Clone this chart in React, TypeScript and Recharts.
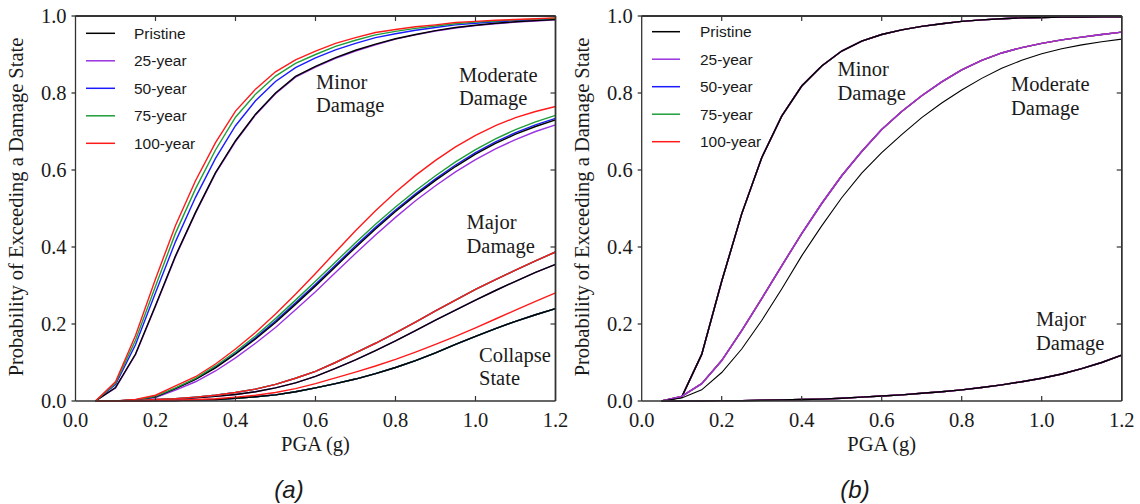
import React from 'react';
import { LineChart, Line, XAxis, YAxis, ReferenceLine } from 'recharts';

// ---------- data ----------
const pga = [0.05, 0.1, 0.15, 0.2, 0.25, 0.3, 0.35, 0.4, 0.45, 0.5, 0.55, 0.6, 0.65, 0.7, 0.75, 0.8, 0.85, 0.9, 0.95, 1.0, 1.05, 1.1, 1.15, 1.2];
const xTicks = [0, 0.2, 0.4, 0.6, 0.8, 1.0, 1.2];
const yTicks = [0, 0.2, 0.4, 0.6, 0.8, 1.0];
const legendLabels = ['Pristine', '25-year', '50-year', '75-year', '100-year'];
const legendColors = ['#000000', '#9a32e0', '#1a1aff', '#1f9e3a', '#ff1a1a'];

// Panel (a)
const aMinorPristine = [0, 0.035, 0.122, 0.248, 0.377, 0.490, 0.593, 0.676, 0.745, 0.800, 0.843, 0.869, 0.892, 0.911, 0.927, 0.941, 0.952, 0.962, 0.970, 0.976, 0.981, 0.985, 0.988, 0.991];
const aMinor25 = [0, 0.034, 0.120, 0.246, 0.375, 0.488, 0.591, 0.674, 0.743, 0.798, 0.841, 0.867, 0.890, 0.909, 0.925, 0.940, 0.951, 0.961, 0.969, 0.975, 0.980, 0.984, 0.987, 0.990];
const aMinor50 = [0, 0.043, 0.146, 0.281, 0.414, 0.529, 0.630, 0.715, 0.780, 0.830, 0.866, 0.891, 0.912, 0.929, 0.944, 0.954, 0.963, 0.970, 0.977, 0.981, 0.985, 0.988, 0.990, 0.993];
const aMinor75 = [0, 0.046, 0.158, 0.298, 0.436, 0.551, 0.652, 0.737, 0.797, 0.844, 0.877, 0.900, 0.921, 0.937, 0.951, 0.960, 0.968, 0.974, 0.980, 0.984, 0.987, 0.990, 0.992, 0.994];
const aMinor100 = [0, 0.050, 0.170, 0.317, 0.456, 0.572, 0.671, 0.753, 0.810, 0.855, 0.886, 0.909, 0.929, 0.944, 0.957, 0.965, 0.972, 0.977, 0.983, 0.986, 0.989, 0.991, 0.993, 0.995];

const aModPristine = [0, 0, 0.003, 0.011, 0.032, 0.056, 0.086, 0.122, 0.161, 0.204, 0.251, 0.299, 0.349, 0.399, 0.447, 0.492, 0.534, 0.573, 0.609, 0.641, 0.669, 0.693, 0.713, 0.730];
const aMod25 = [0, 0, 0.002, 0.009, 0.028, 0.050, 0.078, 0.112, 0.150, 0.191, 0.237, 0.284, 0.334, 0.383, 0.431, 0.477, 0.520, 0.559, 0.595, 0.627, 0.655, 0.679, 0.700, 0.717];
const aMod50 = [0, 0, 0.003, 0.011, 0.033, 0.057, 0.088, 0.124, 0.164, 0.208, 0.255, 0.303, 0.353, 0.403, 0.451, 0.496, 0.538, 0.577, 0.613, 0.645, 0.673, 0.697, 0.717, 0.734];
const aMod75 = [0, 0, 0.003, 0.012, 0.034, 0.059, 0.091, 0.128, 0.169, 0.214, 0.262, 0.311, 0.361, 0.411, 0.459, 0.504, 0.546, 0.585, 0.621, 0.653, 0.681, 0.705, 0.725, 0.742];
const aMod100 = [0, 0, 0.004, 0.015, 0.039, 0.063, 0.096, 0.135, 0.178, 0.226, 0.277, 0.331, 0.387, 0.442, 0.494, 0.542, 0.586, 0.625, 0.660, 0.690, 0.715, 0.736, 0.752, 0.765];

const aMajPristine = [0, 0, 0.001, 0.003, 0.005, 0.008, 0.012, 0.017, 0.024, 0.034, 0.047, 0.064, 0.085, 0.107, 0.131, 0.156, 0.183, 0.210, 0.236, 0.262, 0.287, 0.311, 0.334, 0.355];
const aMaj25 = [0, 0, 0.001, 0.003, 0.005, 0.008, 0.012, 0.017, 0.024, 0.034, 0.047, 0.064, 0.085, 0.107, 0.131, 0.156, 0.183, 0.210, 0.236, 0.262, 0.287, 0.311, 0.334, 0.355];
const aMaj50 = [0, 0, 0.001, 0.004, 0.006, 0.010, 0.015, 0.022, 0.031, 0.043, 0.059, 0.077, 0.100, 0.125, 0.150, 0.177, 0.205, 0.234, 0.262, 0.290, 0.315, 0.340, 0.364, 0.387];
const aMaj75 = [0, 0, 0.001, 0.004, 0.006, 0.010, 0.015, 0.022, 0.031, 0.043, 0.059, 0.077, 0.100, 0.125, 0.150, 0.177, 0.205, 0.234, 0.262, 0.290, 0.315, 0.340, 0.364, 0.387];
const aMaj100 = [0, 0, 0.001, 0.004, 0.006, 0.010, 0.015, 0.022, 0.031, 0.043, 0.059, 0.077, 0.100, 0.125, 0.150, 0.177, 0.205, 0.234, 0.262, 0.290, 0.315, 0.340, 0.364, 0.387];

const aColPristine = [0, 0, 0, 0.001, 0.001, 0.003, 0.004, 0.007, 0.011, 0.016, 0.024, 0.034, 0.045, 0.057, 0.071, 0.087, 0.105, 0.125, 0.147, 0.168, 0.188, 0.207, 0.224, 0.240];
const aCol25 = [0, 0, 0, 0.001, 0.001, 0.003, 0.004, 0.007, 0.011, 0.016, 0.024, 0.034, 0.045, 0.057, 0.071, 0.087, 0.105, 0.125, 0.147, 0.168, 0.188, 0.207, 0.224, 0.240];
const aCol50 = [0, 0, 0, 0.001, 0.001, 0.003, 0.004, 0.007, 0.011, 0.016, 0.024, 0.034, 0.045, 0.057, 0.071, 0.087, 0.105, 0.125, 0.147, 0.168, 0.188, 0.207, 0.224, 0.240];
const aCol75 = [0, 0, 0, 0.001, 0.001, 0.003, 0.004, 0.007, 0.011, 0.016, 0.024, 0.034, 0.045, 0.057, 0.071, 0.087, 0.105, 0.125, 0.147, 0.168, 0.188, 0.207, 0.224, 0.240];
const aCol100 = [0, 0, 0, 0.001, 0.002, 0.004, 0.006, 0.010, 0.015, 0.022, 0.032, 0.045, 0.060, 0.075, 0.091, 0.108, 0.127, 0.147, 0.168, 0.190, 0.213, 0.236, 0.259, 0.281];

// Panel (b)
const bMinorPristine = [0, 0.010, 0.121, 0.311, 0.486, 0.632, 0.740, 0.818, 0.870, 0.909, 0.935, 0.952, 0.964, 0.973, 0.980, 0.986, 0.990, 0.993, 0.995, 0.996, 0.997, 0.997, 0.998, 0.998];
const bMinorAged = [0, 0.010, 0.121, 0.311, 0.486, 0.632, 0.740, 0.818, 0.870, 0.909, 0.935, 0.952, 0.964, 0.973, 0.980, 0.986, 0.990, 0.993, 0.995, 0.996, 0.997, 0.997, 0.998, 0.998];
const bModPristine = [0, 0.008, 0.029, 0.074, 0.135, 0.209, 0.291, 0.377, 0.455, 0.528, 0.592, 0.645, 0.692, 0.736, 0.774, 0.808, 0.838, 0.864, 0.885, 0.902, 0.915, 0.925, 0.933, 0.940];
const bModAged = [0, 0.012, 0.045, 0.105, 0.183, 0.266, 0.351, 0.435, 0.513, 0.585, 0.648, 0.705, 0.752, 0.793, 0.829, 0.860, 0.885, 0.904, 0.918, 0.929, 0.938, 0.945, 0.952, 0.958];
const bMajPristine = [0, 0, 0, 0.001, 0.001, 0.002, 0.003, 0.004, 0.005, 0.007, 0.010, 0.013, 0.016, 0.020, 0.024, 0.029, 0.035, 0.042, 0.050, 0.059, 0.070, 0.084, 0.100, 0.119];
const bMajAged = [0, 0, 0, 0.001, 0.001, 0.002, 0.003, 0.004, 0.005, 0.007, 0.010, 0.013, 0.016, 0.020, 0.024, 0.029, 0.035, 0.042, 0.050, 0.059, 0.070, 0.084, 0.100, 0.119];

// ---------- series setup ----------
type S = { key: string; values: number[]; color: string; width?: number };
const P = legendColors[0], Y25 = legendColors[1], Y50 = legendColors[2], Y75 = legendColors[3], Y100 = legendColors[4];

const seriesA: S[] = [
  { key: 'min25', values: aMinor25, color: Y25 },
  { key: 'min50', values: aMinor50, color: Y50 },
  { key: 'minP', values: aMinorPristine, color: P },
  { key: 'min75', values: aMinor75, color: Y75 },
  { key: 'min100', values: aMinor100, color: Y100 },
  { key: 'mod25', values: aMod25, color: Y25 },
  { key: 'mod50', values: aMod50, color: Y50 },
  { key: 'modP', values: aModPristine, color: P },
  { key: 'mod75', values: aMod75, color: Y75 },
  { key: 'mod100', values: aMod100, color: Y100 },
  { key: 'maj25', values: aMaj25, color: Y25 },
  { key: 'majP', values: aMajPristine, color: P },
  { key: 'maj50', values: aMaj50, color: Y50 },
  { key: 'maj75', values: aMaj75, color: Y75 },
  { key: 'maj100', values: aMaj100, color: Y100 },
  { key: 'col25', values: aCol25, color: Y25 },
  { key: 'col50', values: aCol50, color: Y50 },
  { key: 'col75', values: aCol75, color: Y75 },
  { key: 'colP', values: aColPristine, color: P },
  { key: 'col100', values: aCol100, color: Y100 },
];

const seriesB: S[] = [
  { key: 'min50', values: bMinorAged, color: Y50 },
  { key: 'min75', values: bMinorAged, color: Y75 },
  { key: 'min100', values: bMinorAged, color: Y100 },
  { key: 'min25', values: bMinorAged, color: Y25 },
  { key: 'minP', values: bMinorPristine, color: P },
  { key: 'mod50', values: bModAged, color: Y50 },
  { key: 'mod75', values: bModAged, color: Y75 },
  { key: 'mod100', values: bModAged, color: Y100 },
  { key: 'mod25', values: bModAged, color: Y25 },
  { key: 'modP', values: bModPristine, color: P, width: 1.1 },
  { key: 'maj50', values: bMajAged, color: Y50 },
  { key: 'maj75', values: bMajAged, color: Y75 },
  { key: 'maj100', values: bMajAged, color: Y100 },
  { key: 'maj25', values: bMajAged, color: Y25 },
  { key: 'majP', values: bMajPristine, color: P },
];

const buildRows = (series: S[]) =>
  pga.map((x, i) => {
    const row: Record<string, number> = { x };
    series.forEach((s) => { row[s.key] = s.values[i]; });
    return row;
  });

const dataA = buildRows(seriesA);
const dataB = buildRows(seriesB);

// ---------- layout & styling ----------
const CHART_W = 570;
const CHART_H = 504;
const M_TOP = 16;
const M_BOTTOM = 73;
const X_AXIS_H = 30;
const Y_AXIS_W = 45;
const X_MAX = 1.2;
const Y_MAX = 1;

const SERIF = 'Liberation Serif';
const SANS = 'Liberation Sans';
const AXIS = '#333333';
const TXT = '#1a1a1a';
const TICK_FONT = 20.5;

const fmt = (v: number) => v.toFixed(1);

const XTick = (p: any) => (
  <text x={p.x} y={p.y} dy="0.71em" textAnchor="middle" fill={TXT} fontFamily={SERIF} fontSize={TICK_FONT}
    style={{ fontFamily: SERIF, fontSize: TICK_FONT }}>
    {fmt(p.payload.value)}
  </text>
);

const YTick = (p: any) => (
  <text x={p.x} y={p.y} dy="0.36em" textAnchor="end" fill={TXT} fontFamily={SERIF} fontSize={TICK_FONT}
    style={{ fontFamily: SERIF, fontSize: TICK_FONT }}>
    {fmt(p.payload.value)}
  </text>
);

function renderPanel(data: any[], series: S[], marginLeft: number, marginRight: number) {
  return (
    <LineChart width={CHART_W} height={CHART_H} data={data}
      margin={{ top: M_TOP, right: marginRight, bottom: M_BOTTOM, left: marginLeft }}>
      <XAxis xAxisId="b" dataKey="x" type="number" domain={[0, X_MAX]} ticks={xTicks}
        stroke={AXIS} strokeWidth={1.3} tickLine={false} tickSize={9} tickMargin={2}
        height={X_AXIS_H} tick={<XTick />} />
      <XAxis xAxisId="bt" dataKey="x" type="number" domain={[0, X_MAX]} ticks={xTicks}
        orientation="bottom" mirror axisLine={false} stroke={AXIS} tick={false} tickSize={5} />
      <XAxis xAxisId="t" dataKey="x" type="number" domain={[0, X_MAX]} ticks={xTicks}
        orientation="top" mirror stroke={AXIS} strokeWidth={1.3} tick={false} tickSize={5} />
      <YAxis yAxisId="l" domain={[0, Y_MAX]} ticks={yTicks} width={Y_AXIS_W}
        stroke={AXIS} strokeWidth={1.3} tickSize={4} tickMargin={5} tick={<YTick />} />
      <YAxis yAxisId="r" domain={[0, Y_MAX]} ticks={yTicks}
        orientation="right" mirror stroke={AXIS} strokeWidth={1.3} tick={false} tickSize={5} />
      <ReferenceLine xAxisId="b" yAxisId="l" y={Y_MAX} stroke={AXIS} strokeWidth={1.3} />
      <ReferenceLine xAxisId="b" yAxisId="l" x={X_MAX} stroke={AXIS} strokeWidth={1.3} />
      <Line xAxisId="t" yAxisId="r" dataKey="minP" stroke="#ffffff" strokeOpacity={0} dot={false} isAnimationActive={false} />
      <Line xAxisId="bt" yAxisId="r" dataKey="minP" stroke="#ffffff" strokeOpacity={0} dot={false} isAnimationActive={false} />
      {series.map((s) => (
        <Line key={s.key} xAxisId="b" yAxisId="l" dataKey={s.key} stroke={s.color}
          strokeWidth={s.width ?? 1.4} dot={false} isAnimationActive={false} />
      ))}
    </LineChart>
  );
}

// Closing frame (top and right borders with inward ticks), derived from the panel layout.
function Frame({ offsetX, marginLeft, marginRight }: { offsetX: number; marginLeft: number; marginRight: number }) {
  const left = offsetX + marginLeft + Y_AXIS_W;
  const right = offsetX + CHART_W - marginRight;
  const top = M_TOP;
  const bottom = CHART_H - M_BOTTOM - X_AXIS_H;
  const px = (v: number) => left + (v / X_MAX) * (right - left);
  const py = (v: number) => bottom - (v / Y_MAX) * (bottom - top);
  return (
    <g stroke={AXIS} fill="none">
      <line x1={left} x2={right} y1={top} y2={top} strokeWidth={1.3} />
      <line x1={right} x2={right} y1={top} y2={bottom} strokeWidth={1.3} />
      {xTicks.slice(1, -1).map((t) => (
        <g key={'x' + t}>
          <line x1={px(t)} x2={px(t)} y1={top} y2={top + 5} strokeWidth={1.2} />
          <line x1={px(t)} x2={px(t)} y1={bottom} y2={bottom - 5} strokeWidth={1.2} />
        </g>
      ))}
      {yTicks.slice(1, -1).map((t) => (
        <line key={'y' + t} x1={right} x2={right - 5} y1={py(t)} y2={py(t)} strokeWidth={1.2} />
      ))}
    </g>
  );
}

function LegendBlock({ x0, x1, tx, rows }: { x0: number; x1: number; tx: number; rows: number[] }) {
  return (
    <g>
      {legendLabels.map((lab, i) => (
        <g key={lab}>
          <line x1={x0} x2={x1} y1={rows[i]} y2={rows[i]} stroke={legendColors[i]} strokeWidth={1.5} />
          <text x={tx} y={rows[i] + 5.3} fill={TXT} style={{ fontFamily: SANS, fontSize: 15.5 }}>{lab}</text>
        </g>
      ))}
    </g>
  );
}

function Note({ x, y, lines }: { x: number; y: number; lines: string[] }) {
  return (
    <text x={x} y={y} fill={TXT} style={{ fontFamily: SERIF, fontSize: 20.5 }}>
      {lines.map((l, i) => (
        <tspan key={i} x={x} dy={i === 0 ? 0 : 23.5}>{l}</tspan>
      ))}
    </text>
  );
}

const A_ML = 30.5, A_MR = 14.5, B_ML = 26.7, B_MR = 18.3;

export default function App() {
  const yTitle = 'Probability of Exceeding a Damage State';
  const serifStyle = { fontFamily: SERIF, fontSize: 20.5 };
  const capStyle = { fontFamily: SANS, fontSize: 24, fontStyle: 'italic' as const };
  return (
    <div style={{ position: 'absolute', left: 0, top: 0, width: 1140, height: 504 }}>
      <div style={{ position: 'absolute', left: 0, top: 0 }}>
        {renderPanel(dataA, seriesA, A_ML, A_MR)}
      </div>
      <div style={{ position: 'absolute', left: CHART_W, top: 0 }}>
        {renderPanel(dataB, seriesB, B_ML, B_MR)}
      </div>
      <svg width={1140} height={504} style={{ position: 'absolute', left: 0, top: 0, pointerEvents: 'none' }}>
        <Frame offsetX={0} marginLeft={A_ML} marginRight={A_MR} />
        <Frame offsetX={CHART_W} marginLeft={B_ML} marginRight={B_MR} />
        <text x={315.5} y={451} textAnchor="middle" fill={TXT} style={serifStyle}>PGA (g)</text>
        <text x={881.7} y={451} textAnchor="middle" fill={TXT} style={serifStyle}>PGA (g)</text>
        <text transform="translate(22.5,207) rotate(-90)" textAnchor="middle" fill={TXT} style={serifStyle}>{yTitle}</text>
        <text transform="translate(589,207) rotate(-90)" textAnchor="middle" fill={TXT} style={serifStyle}>{yTitle}</text>
        <LegendBlock x0={86} x1={115} tx={134} rows={[33.3, 60.8, 88.3, 115.8, 143.3]} />
        <LegendBlock x0={652} x1={680} tx={700} rows={[31.7, 59.2, 86.7, 114.2, 141.7]} />
        <Note x={316} y={88.5} lines={['Minor', 'Damage']} />
        <Note x={459} y={81.7} lines={['Moderate', 'Damage']} />
        <Note x={466.5} y={229} lines={['Major', 'Damage']} />
        <Note x={479} y={361.7} lines={['Collapse', 'State']} />
        <Note x={837.5} y={76} lines={['Minor', 'Damage']} />
        <Note x={1011} y={91} lines={['Moderate', 'Damage']} />
        <Note x={1036} y={326} lines={['Major', 'Damage']} />
        <text x={289} y={498} textAnchor="middle" fill={TXT} style={capStyle}>(a)</text>
        <text x={855} y={498} textAnchor="middle" fill={TXT} style={capStyle}>(b)</text>
      </svg>
    </div>
  );
}
